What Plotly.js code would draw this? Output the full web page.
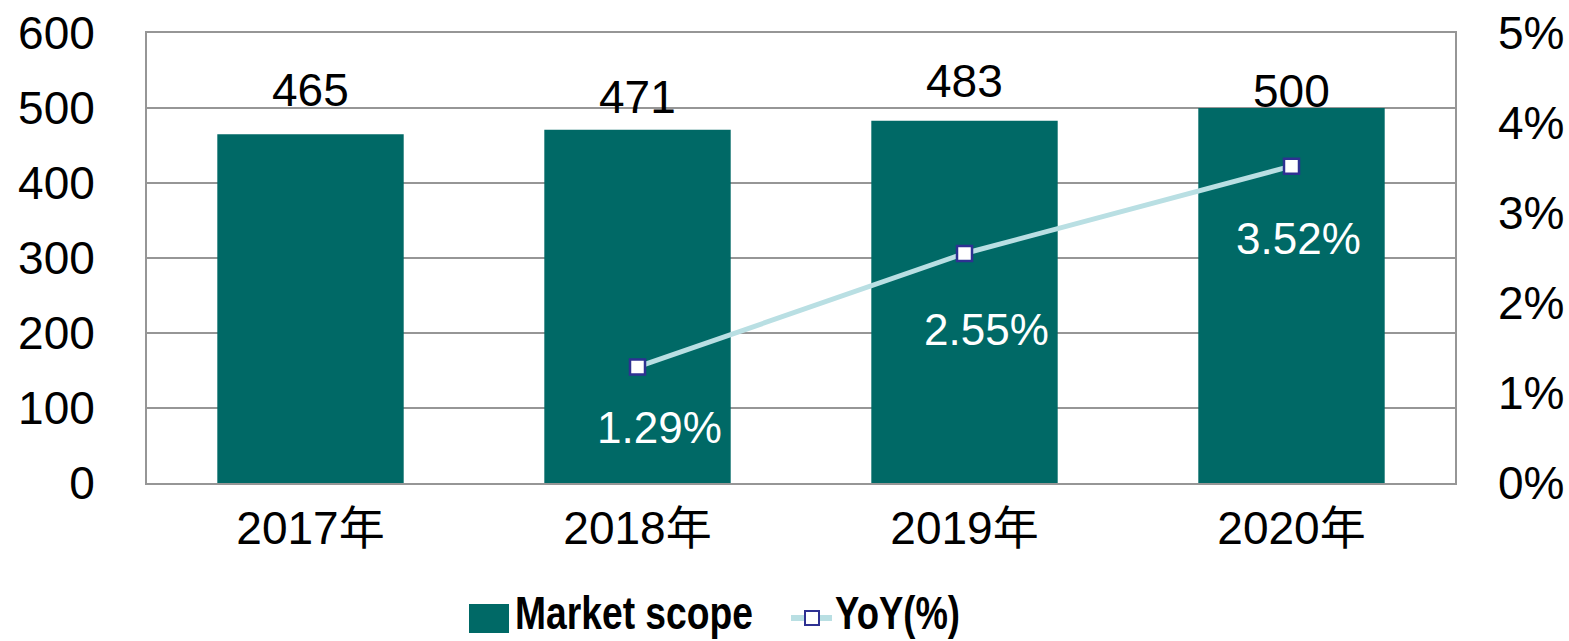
<!DOCTYPE html>
<html>
<head>
<meta charset="utf-8">
<script src="https://cdn.plot.ly/plotly-3.0.1.min.js"></script>
<style>html,body{margin:0;padding:0;background:#fff;}#chart{width:1569px;height:641px;}</style>
</head>
<body>
<div id="chart"></div>
<script>
const categories = ['2017年', '2018年', '2019年', '2020年'];
const marketScope = [465, 471, 483, 500];
const yoyCategories = ['2018年', '2019年', '2020年'];
const yoyValues = [1.29, 2.55, 3.52];
const seriesNames = ['Market scope', 'YoY(%)'];

const W = 1569, H = 641;
const M = {l: 147, r: 114, t: 33, b: 158};
const PW = W - M.l - M.r, PH = H - M.t - M.b;
const px = x => (x - M.l) / PW;
const py = y => (H - M.b - y) / PH;

const BAR = '#006966';
const LINE = '#b9dfe3';
const MK = '#2e3192';
const GRID = '#969696';
const FONT = 'Liberation Sans, Arial, Noto Sans CJK SC, sans-serif';
const LEGFONT = 'Liberation Sans, Arial, sans-serif';

const barShift = [44, 33, 40, 17];
const yoyYShift = [-61, -76, -72];
const yoyXShift = [22, 22, 7];
const legendTextWidth = [238, 125];

const annotations = [];
categories.forEach((c, i) => {
  annotations.push({x: c, y: marketScope[i], xref: 'x', yref: 'y', text: String(marketScope[i]),
    showarrow: false, yanchor: 'middle', yshift: barShift[i], font: {family: FONT, size: 46, color: '#000'}});
});
yoyCategories.forEach((c, i) => {
  annotations.push({x: c, y: yoyValues[i], xref: 'x', yref: 'y2', text: yoyValues[i].toFixed(2) + '%',
    showarrow: false, yanchor: 'middle', yshift: yoyYShift[i], xshift: yoyXShift[i], font: {family: FONT, size: 44, color: '#fff'}});
});
// legend texts
annotations.push({xref: 'paper', yref: 'paper', x: px(514), y: py(613), xanchor: 'left', yanchor: 'middle', showarrow: false, borderpad: 0,
  text: seriesNames[0], font: {family: LEGFONT, size: 46, color: '#000', weight: 'bold'}});
annotations.push({xref: 'paper', yref: 'paper', x: px(834), y: py(613), xanchor: 'left', yanchor: 'middle', showarrow: false, borderpad: 0,
  text: seriesNames[1], font: {family: LEGFONT, size: 46, color: '#000', weight: 'bold'}});

const shapes = [
  {type: 'rect', xref: 'paper', yref: 'paper', x0: px(469), x1: px(509), y0: py(604), y1: py(633), fillcolor: BAR, line: {width: 0}},
  {type: 'line', xref: 'paper', yref: 'paper', x0: px(791), x1: px(832), y0: py(618), y1: py(618), line: {color: LINE, width: 6}},
  {type: 'rect', xref: 'paper', yref: 'paper', x0: px(805), x1: px(819), y0: py(611), y1: py(625), fillcolor: '#fff', line: {color: MK, width: 2}}
];

const traces = [
  {type: 'bar', name: seriesNames[0], x: categories, y: marketScope, marker: {color: BAR, line: {width: 0}}, width: 0.57,
   hoverinfo: 'x+y', showlegend: false},
  {type: 'scatter', mode: 'lines+markers', name: seriesNames[1], x: yoyCategories, y: yoyValues, yaxis: 'y2',
   line: {color: LINE, width: 5}, marker: {symbol: 'square', size: 15, color: '#fff', line: {color: MK, width: 2.5}},
   showlegend: false, cliponaxis: false}
];

const layout = {
  width: W, height: H,
  margin: M,
  paper_bgcolor: '#fff', plot_bgcolor: '#fff',
  showlegend: false,
  xaxis: {type: 'category', tickfont: {family: FONT, size: 46, color: '#000'}, showgrid: false,
    showline: true, linecolor: GRID, linewidth: 2, mirror: true, ticks: '', ticklabelstandoff: 4, fixedrange: true},
  yaxis: {range: [0, 600], dtick: 100, tickfont: {family: FONT, size: 46, color: '#000'}, showgrid: true, gridcolor: GRID, gridwidth: 2,
    showline: true, linecolor: GRID, linewidth: 2, mirror: true, ticks: '', ticklabelstandoff: 41, zeroline: false, fixedrange: true},
  yaxis2: {range: [0, 5], dtick: 1, ticksuffix: '%', overlaying: 'y', side: 'right', showgrid: false, zeroline: false,
    tickfont: {family: FONT, size: 46, color: '#000'}, ticks: '', ticklabelstandoff: 42, showline: false, fixedrange: true},
  annotations: annotations,
  shapes: shapes
};

Plotly.newPlot('chart', traces, layout, {displayModeBar: false, staticPlot: true}).then(gd => {
  gd.querySelectorAll('.annotation-text').forEach(t => {
    const idx = seriesNames.indexOf(t.textContent);
    if (idx >= 0) {
      const bb = t.getBBox();
      const sx = legendTextWidth[idx] / bb.width;
      const bx = bb.x;
      t.setAttribute('transform', `translate(${bx},0) scale(${sx},1) translate(${-bx},0)`);
    }
  });
});
</script>
</body>
</html>
